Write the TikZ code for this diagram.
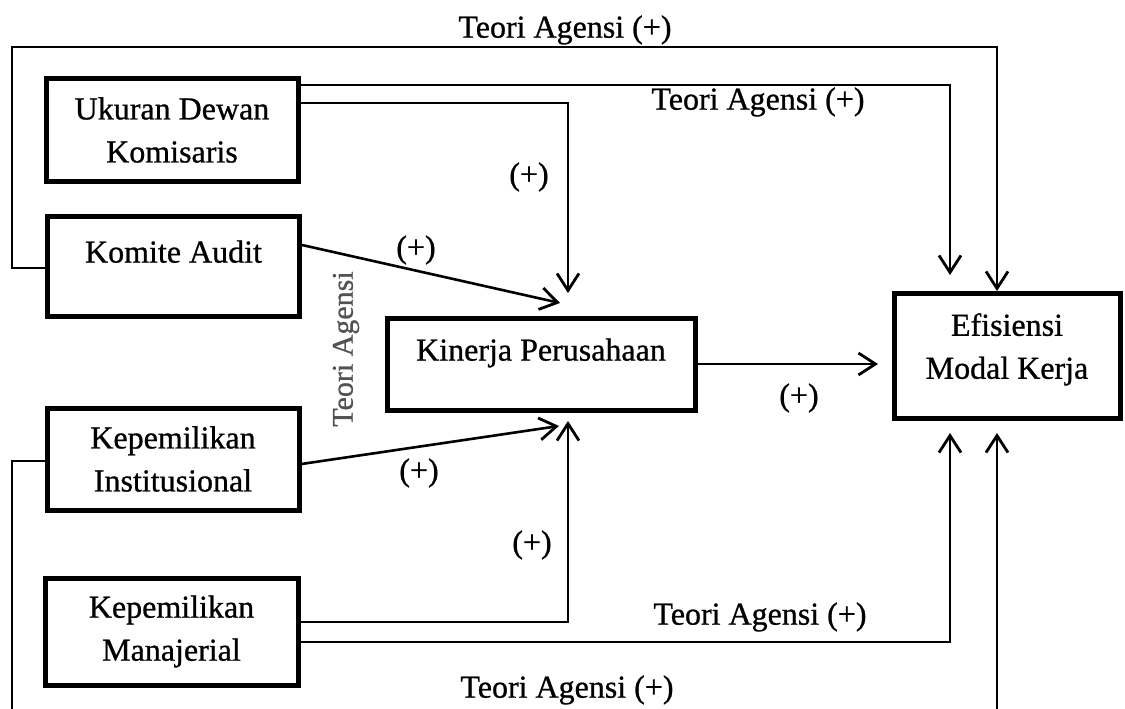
\documentclass[tikz,border=0pt]{standalone}
\usepackage{fontspec}
\setmainfont{Liberation Serif}[FakeBold=0.8]
\usetikzlibrary{arrows.meta,calc}
\begin{document}
\begin{tikzpicture}[x=1pt,y=-1pt,
  box/.style={draw, line width=5pt, align=center, inner sep=0pt, font=\fontsize{32}{43}\selectfont},
  conn/.style={line width=2.6pt},
  thin conn/.style={line width=2pt},
  tip/.style={-{Straight Barb[length=17pt,width=22pt,line width=2.8pt]}},
  lbl/.style={font=\fontsize{32}{43}\selectfont, inner sep=0pt}]
\useasboundingbox (0,0) rectangle (1125,709);
\clip (0,0) rectangle (1125,709);
% boxes
\node[box, minimum width=252pt, minimum height=102pt] (ukd) at (172,130) {Ukuran Dewan\\Komisaris};
\node[box, minimum width=252pt, minimum height=100pt] (ka) at (173.5,266) {Komite Audit\\[-14pt]\mbox{}};
\node[box, minimum width=308pt, minimum height=92pt] (kin) at (541,364) {Kinerja Perusahaan\\[-14pt]\mbox{}};
\node[box, minimum width=252pt, minimum height=102pt] (inst) at (173,459) {Kepemilikan\\Institusional};
\node[box, minimum width=253pt, minimum height=107pt] (man) at (171.5,631.5) {Kepemilikan\\Manajerial};
\node[box, minimum width=226pt, minimum height=125pt] (efi) at (1007,356) {Efisiensi\\Modal Kerja\\[-23pt]\mbox{}};
% rotated label
\node[rotate=90, fill=white, inner sep=4pt, text=black!68, font=\fontsize{30}{36}\selectfont] (ta) at (346,349) {Teori Agensi};
% coordinates
\coordinate (p1a) at (12,268); \coordinate (p1b) at (12,47); \coordinate (p1c) at (997,47);
\coordinate (p2) at (950,85); \coordinate (p2e) at (950,275);
\coordinate (p3) at (568,103); \coordinate (p3e) at (568,293);
\coordinate (p4s) at (0,245); \coordinate (p4e) at (560,303);
\coordinate (p5e) at (878,364);
\coordinate (p6s) at (0,464); \coordinate (p6e) at (559,426);
\coordinate (p7) at (568,622); \coordinate (p7e) at (568,421);
\coordinate (p8) at (950,642); \coordinate (p8e) at (950,433);
\coordinate (p9a) at (12,461); \coordinate (p9b) at (12,740); \coordinate (p9c) at (997,740); \coordinate (p9e) at (997,433);
% connectors
\draw[thin conn, tip] (ka.west |- p1a) -- (p1a) -- (p1b) -- (p1c) -- (efi.north -| p1c);
\draw[conn, tip] (ukd.east |- p2) -- (p2) -- (p2e);
\draw[conn, tip] (ukd.east |- p3) -- (p3) -- (p3e);
\draw[conn, tip] (ka.east |- p4s) -- (p4e);
\draw[conn, tip] (kin.east) -- (p5e);
\draw[conn, tip] (inst.east |- p6s) -- (p6e);
\draw[conn, tip] (man.east |- p7) -- (p7) -- (p7e);
\draw[conn, tip] (man.east |- p8) -- (p8) -- (p8e);
\draw[thin conn, tip] (inst.west |- p9a) -- (p9a) -- (p9b) -- (p9c) -- (p9e);
% labels
\node[lbl] (l1) at (565,30) {Teori Agensi (+)};
\node[lbl] (l2) at (758,102) {Teori Agensi (+)};
\node[lbl] (l3) at (760,617) {Teori Agensi (+)};
\node[lbl] (l4) at (567,690) {Teori Agensi (+)};
\node[lbl] (s1) at (529,177) {(+)};
\node[lbl] (s2) at (416,250) {(+)};
\node[lbl] (s3) at (799,398) {(+)};
\node[lbl] (s4) at (419,473) {(+)};
\node[lbl] (s5) at (532,545) {(+)};
\end{tikzpicture}
\end{document}
